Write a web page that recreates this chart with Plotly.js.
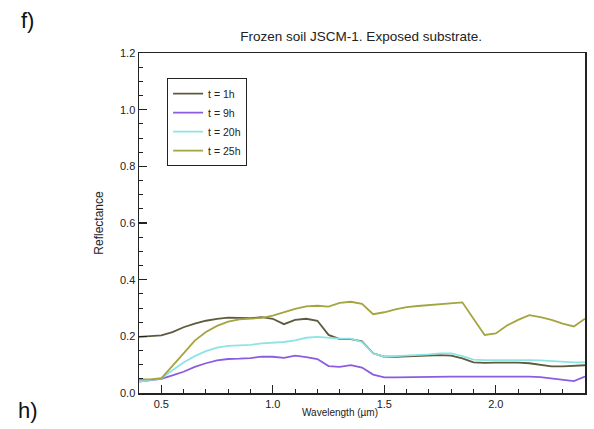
<!DOCTYPE html>
<html>
<head>
<meta charset="utf-8">
<script src="https://cdn.plot.ly/plotly-3.0.1.min.js"></script>
<style>html,body{margin:0;padding:0;background:#fff;}#chart{width:594px;height:429px;}</style>
</head>
<body>
<div id="chart"></div>
<script>
const wavelength = [0.40,0.45,0.50,0.55,0.60,0.65,0.70,0.75,0.80,0.85,0.90,0.95,1.00,1.05,1.10,1.15,1.20,1.25,1.30,1.35,1.40,1.45,1.50,1.55,1.60,1.65,1.70,1.75,1.80,1.85,1.90,1.95,2.00,2.05,2.10,2.15,2.20,2.25,2.30,2.35,2.40];
const seriesNames = ["t = 1h", "t = 9h", "t = 20h", "t = 25h"];
const refl1h = [0.198,0.200,0.203,0.215,0.232,0.245,0.255,0.262,0.266,0.265,0.264,0.268,0.262,0.243,0.258,0.262,0.255,0.205,0.190,0.190,0.182,0.140,0.128,0.128,0.130,0.130,0.132,0.134,0.132,0.122,0.108,0.106,0.107,0.108,0.107,0.105,0.100,0.094,0.094,0.095,0.098];
const refl9h = [0.040,0.045,0.050,0.062,0.075,0.092,0.105,0.115,0.120,0.121,0.123,0.128,0.128,0.124,0.132,0.127,0.120,0.095,0.092,0.098,0.090,0.065,0.055,0.055,0.056,0.057,0.057,0.058,0.058,0.058,0.058,0.060,0.060,0.059,0.058,0.058,0.056,0.052,0.048,0.042,0.058];
const refl20h = [0.040,0.045,0.052,0.080,0.108,0.130,0.148,0.160,0.166,0.168,0.170,0.175,0.178,0.180,0.186,0.195,0.198,0.194,0.192,0.192,0.180,0.140,0.128,0.130,0.132,0.133,0.136,0.140,0.140,0.130,0.118,0.116,0.116,0.118,0.117,0.116,0.115,0.112,0.110,0.108,0.108];
const refl25h = [0.048,0.048,0.052,0.095,0.140,0.185,0.215,0.237,0.252,0.260,0.263,0.265,0.273,0.285,0.297,0.306,0.308,0.305,0.318,0.322,0.315,0.278,0.285,0.295,0.303,0.307,0.310,0.313,0.315,0.320,0.262,0.205,0.210,0.238,0.258,0.275,0.268,0.258,0.245,0.235,0.262];
const colors = ["#5e5a3e", "#8c5ce0", "#8ee4e4", "#a4a440"];

const allSeries = [refl1h, refl9h, refl20h, refl25h];
const traces = allSeries.map((ys, i) => ({
  x: wavelength, y: ys, type: 'scatter', mode: 'lines', name: seriesNames[i],
  line: {color: colors[i], width: 1.8}
}));

const FAM = 'Liberation Sans, Arial, sans-serif';
const INK = '#222';
const tickFont = {family: FAM, size: 11, color: INK};

const layout = {
  width: 594, height: 429,
  margin: {l: 139, r: 9, t: 53, b: 36},
  paper_bgcolor: '#fff', plot_bgcolor: '#fff',
  font: {family: FAM, size: 10, color: INK},
  title: {text: 'Frozen soil JSCM-1. Exposed substrate.', font: {family: FAM, size: 13.5, color: INK}, x: 0.608, xanchor: 'center', y: 0.916, yanchor: 'middle'},
  xaxis: {range: [0.4, 2.4], tick0: 0.5, dtick: 0.5, tickmode: 'linear', showline: true, linecolor: INK, linewidth: 1.5, mirror: true,
    ticks: 'inside', ticklen: 8, tickwidth: 1.3, tickcolor: INK, showgrid: false, zeroline: false, tickformat: '.1f', tickfont: tickFont,
    minor: {tickmode: 'linear', tick0: 0, dtick: 0.1, ticks: 'inside', ticklen: 4, tickwidth: 1, tickcolor: INK, showgrid: false}},
  yaxis: {range: [0, 1.2], tick0: 0, dtick: 0.2, tickmode: 'linear', showline: true, linecolor: INK, linewidth: 1.5, mirror: true,
    ticks: 'inside', ticklen: 8, tickwidth: 1.3, tickcolor: INK, showgrid: false, zeroline: false, tickformat: '.1f', tickfont: tickFont,
    minor: {tickmode: 'linear', tick0: 0, dtick: 0.05, ticks: 'inside', ticklen: 4, tickwidth: 1, tickcolor: INK, showgrid: false},
    title: {text: 'Reflectance', font: {family: FAM, size: 12, color: INK}, standoff: 14}},
  legend: {x: 0.063, y: 0.926, xanchor: 'left', yanchor: 'top', bordercolor: INK, borderwidth: 1, bgcolor: '#fff', font: {family: FAM, size: 10.5, color: INK}, tracegroupgap: 0},
  showlegend: true,
  annotations: [
    {text: 'Wavelength (µm)', xref: 'paper', yref: 'paper', x: 0.45, y: -0.056, xanchor: 'center', yanchor: 'middle', showarrow: false, font: {family: FAM, size: 10, color: INK}},
    {text: 'f)', xref: 'paper', yref: 'paper', x: -0.27, y: 1.097, xanchor: 'left', yanchor: 'middle', showarrow: false, font: {family: FAM, size: 22, color: '#111'}},
    {text: 'h)', xref: 'paper', yref: 'paper', x: -0.275, y: -0.05, xanchor: 'left', yanchor: 'middle', showarrow: false, font: {family: FAM, size: 22, color: '#111'}}
  ]
};

Plotly.newPlot('chart', traces, layout, {staticPlot: true, displayModeBar: false});
</script>
</body>
</html>
